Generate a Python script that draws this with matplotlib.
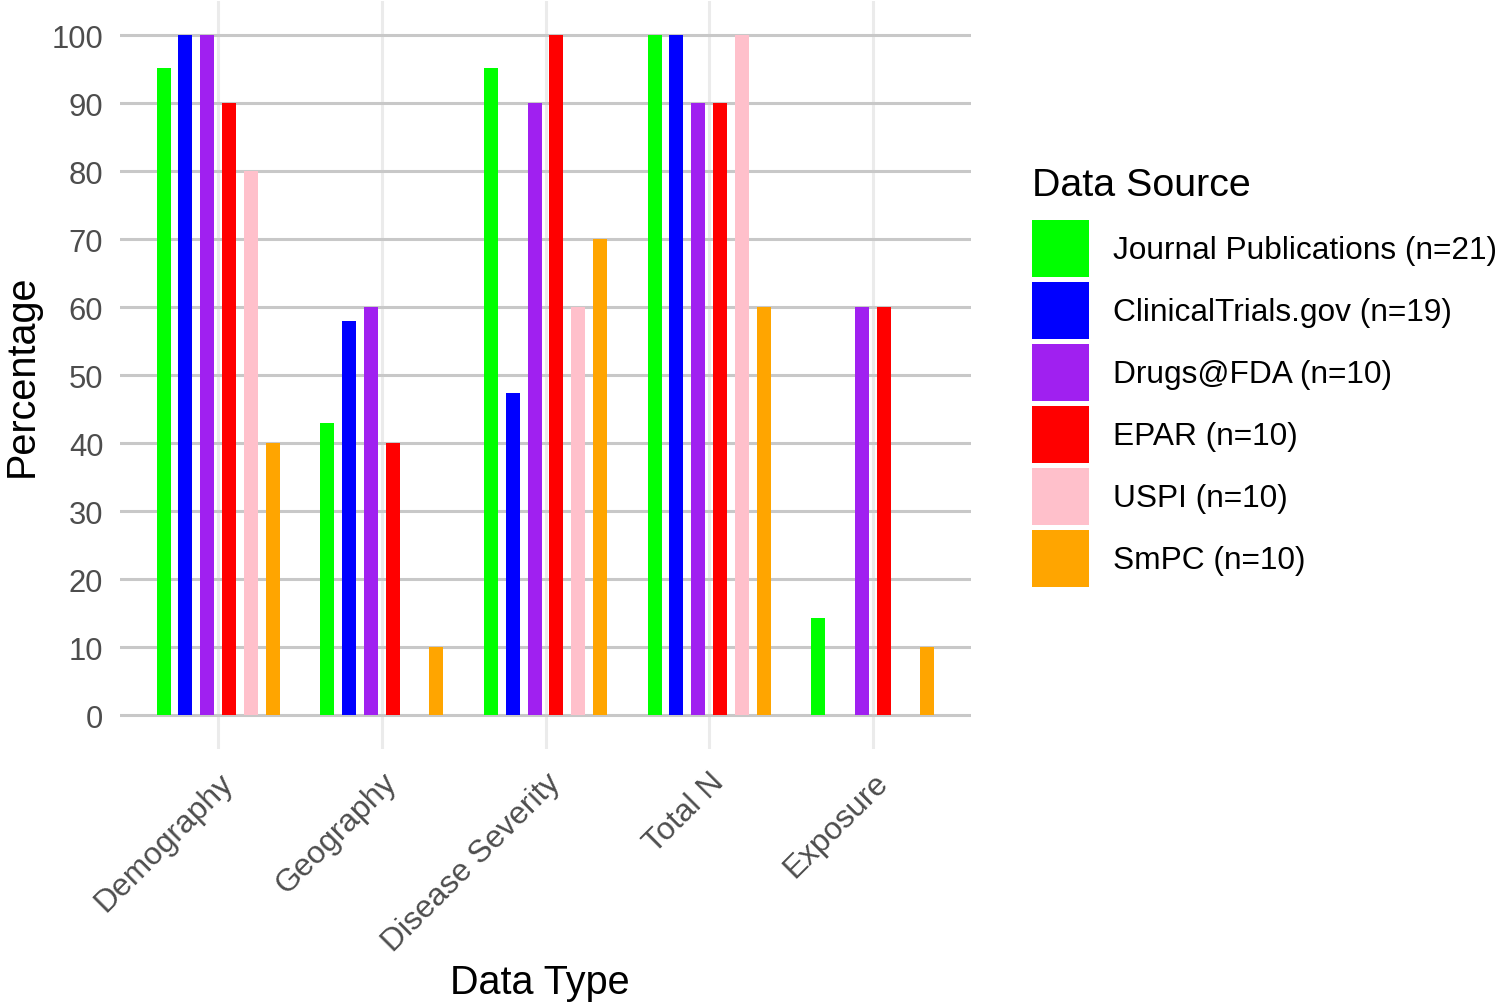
import matplotlib
matplotlib.use("Agg")
import matplotlib.pyplot as plt
from matplotlib.patches import Patch
import numpy as np

# values (percent of documents reporting each data type)
data_types = ["Demography", "Geography", "Disease Severity", "Total N", "Exposure"]
sources = ["Journal Publications (n=21)", "ClinicalTrials.gov (n=19)", "Drugs@FDA (n=10)",
           "EPAR (n=10)", "USPI (n=10)", "SmPC (n=10)"]
journal = [95.2, 42.9, 95.2, 100, 14.3]
clinicaltrials = [100, 57.9, 47.4, 100, 0]
drugsfda = [100, 60, 90, 90, 60]
epar = [90, 40, 100, 90, 60]
uspi = [80, 0, 60, 100, 0]
smpc = [40, 10, 70, 60, 10]
colors = ["#00FF00", "#0000FF", "#A020F0", "#FF0000", "#FFC0CB", "#FFA500"]

FONT = "Liberation Sans"
plt.rcParams['font.family'] = [FONT, 'DejaVu Sans']

fig = plt.figure(figsize=(14.99, 10.04), dpi=100)
ax = fig.add_axes([120 / 1499, 1 - 750 / 1004, 851 / 1499, 748 / 1004])

series = [journal, clinicaltrials, drugsfda, epar, uspi, smpc]
slot = 0.8 / len(series)
bar_w = 0.086
x = np.arange(len(data_types))
for i, (vals, col) in enumerate(zip(series, colors)):
    ax.bar(x + (i - 2.5) * slot, vals, width=bar_w, color=col, zorder=3)

ax.set_xlim(-0.6, 4.6)
ax.set_ylim(-5, 105)
ax.set_yticks(range(0, 101, 10))
ax.set_xticks(x)
ax.set_xticklabels(data_types, rotation=45, ha='right', va='top', rotation_mode='anchor')

ax.set_axisbelow(True)
ax.yaxis.grid(True, color='#c8c8c8', lw=2.2)
ax.xaxis.grid(True, color='#ebebeb', lw=2.2)
for s in ax.spines.values():
    s.set_visible(False)
ax.tick_params(axis='both', length=0, labelcolor='#4d4d4d')
ax.tick_params(axis='y', pad=12, labelsize=22.3)
ax.tick_params(axis='x', pad=13, labelsize=22.9)

ax.set_ylabel("Percentage", fontsize=28.5)
ax.yaxis.set_label_coords(-0.093, 0.5)
ax.set_xlabel("Data Type", fontsize=28.5, va='center')
ax.xaxis.set_label_coords(0.4935, -0.311)

# legend title drawn separately so the gap to the keys matches
fig.text(1032 / 1499, 1 - 196 / 1004, "Data Source", fontsize=28.4, va='baseline', ha='left')
handles = [Patch(facecolor=c, edgecolor='none') for c in colors]
fig.legend(handles, sources, loc='upper left',
           bbox_to_anchor=(1032 / 1499, 1 - 221 / 1004), frameon=False,
           fontsize=22.8, handlelength=1.8, handleheight=2.39,
           labelspacing=0.16, handletextpad=0.76, borderpad=0, borderaxespad=0)

fig.savefig("out.png", dpi=100, facecolor='white')
